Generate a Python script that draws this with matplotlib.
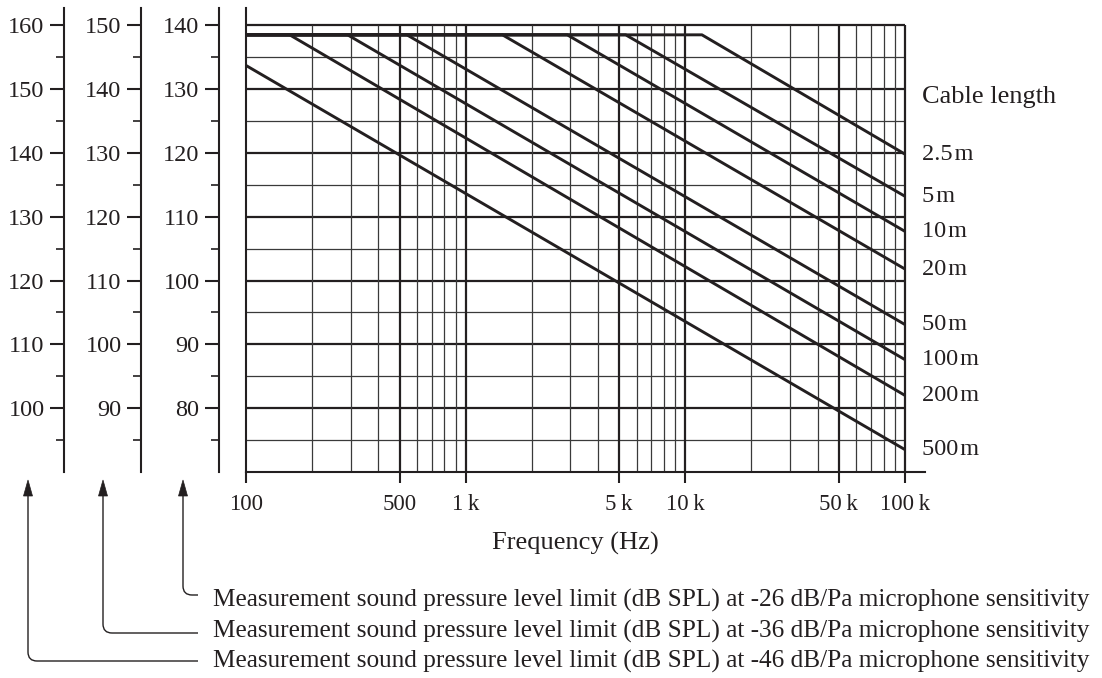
import numpy as np
import matplotlib
matplotlib.use("Agg")
import matplotlib.pyplot as plt
from matplotlib.path import Path
from matplotlib.patches import PathPatch, Polygon

# ---------------- data ----------------
cable_labels = ["2.5\u200am", "5\u200am", "10\u200am", "20\u200am", "50\u200am", "100\u200am", "200\u200am", "500\u200am"]
knee_freq_hz = [11900, 5350, 2900, 1470, 540, 290, 158, 100]
knee_level_db = [138.5, 138.5, 138.5, 138.5, 138.5, 138.5, 138.5, 133.7]
end_level_db = [119.8, 113.2, 107.7, 101.8, 93.1, 87.6, 82.0, 73.5]
start_freq_hz = 100
end_freq_hz = 100000
saturation_db = 138.5

x_ticks = [100, 500, 1000, 5000, 10000, 50000, 100000]
x_tick_labels = ["100", "500", "1\u2009k", "5\u2009k", "10\u2009k", "50\u2009k", "100\u2009k"]

# three left SPL scales: top value of each (main grid top = 140)
scale_offsets = [20, 10, 0]
sensitivities = ["-26", "-36", "-46"]

# ---------------- layout ----------------
W, H = 1102, 678
INK = "#231f20"
FONT = ["Liberation Serif", "DejaVu Serif"]
plt.rcParams["font.family"] = FONT

fig = plt.figure(figsize=(W / 100, H / 100), dpi=100)

def fx(px):
    return px / W

def fy(py):
    return 1 - py / H

PX_PER_DEC = 219.67
left_px, right_px, bot_px, top_px = 246, 925, 472, 8
y_lo, y_hi = 70, 70 + (bot_px - top_px) / 6.382
x_hi = 100 * 10 ** ((right_px - left_px) / PX_PER_DEC)

ax = fig.add_axes([fx(left_px), fy(bot_px), (right_px - left_px) / W, (bot_px - top_px) / H])
ax.set_xscale("log")
ax.set_xlim(100, x_hi)
ax.set_ylim(y_lo, y_hi)
for s in ["top", "right"]:
    ax.spines[s].set_visible(False)
for s in ["left", "bottom"]:
    ax.spines[s].set_linewidth(1.5)
    ax.spines[s].set_color(INK)
ax.set_yticks([])
ax.set_xticks(x_ticks)
ax.set_xticklabels(x_tick_labels)
ax.xaxis.set_minor_locator(matplotlib.ticker.NullLocator())
ax.tick_params(axis="x", direction="out", length=8, width=1.5, color=INK,
               labelsize=16.5, labelcolor=INK, pad=8)
fig.text(fx((905 + 246) / 2), fy(543), "Frequency (Hz)", ha="center", va="center",
         fontsize=19, color=INK)

# horizontal grid
for v in range(75, 141, 5):
    major = v % 10 == 0
    ax.plot([start_freq_hz, end_freq_hz], [v, v], color=INK if major else "#3a3a3a",
            lw=1.6 if major else 0.9, solid_capstyle="butt", zorder=1)
# vertical grid
thick_f = {500, 1000, 5000, 10000, 50000, 100000}
for dec in [100, 1000, 10000]:
    for m in range(2, 11):
        f = dec * m
        ax.plot([f, f], [y_lo, 140], color=INK if f in thick_f else "#3a3a3a",
                lw=1.6 if f in thick_f else 0.9, solid_capstyle="butt", zorder=1)

# cable curves
for lab, kf, kl, el in zip(cable_labels, knee_freq_hz, knee_level_db, end_level_db):
    if kf > start_freq_hz:
        xs = [start_freq_hz, kf, end_freq_hz]
        ys = [saturation_db, kl, el]
    else:
        xs = [kf, end_freq_hz]
        ys = [kl, el]
    ax.plot(xs, ys, color=INK, lw=2.1, zorder=3, solid_capstyle="butt")
    ax.annotate(lab, xy=(end_freq_hz, el), xytext=(12, 0), textcoords="offset points",
                ha="left", va="center", fontsize=17.5, color=INK, annotation_clip=False)

ax.annotate("Cable length", xy=(end_freq_hz, 128.7), xytext=(12, 0), textcoords="offset points",
            ha="left", va="center", fontsize=19, color=INK, annotation_clip=False)

# left SPL scales
for off, xpx in zip(scale_offsets, [64, 141, 219]):
    a = fig.add_axes([fx(xpx), fy(bot_px), 0.0005, (bot_px - top_px) / H])
    a.set_ylim(y_lo + off, y_hi + off)
    a.patch.set_visible(False)
    for s in ["top", "right", "bottom"]:
        a.spines[s].set_visible(False)
    a.spines["left"].set_linewidth(1.5)
    a.spines["left"].set_color(INK)
    a.set_xticks([])
    a.set_yticks(np.arange(80 + off, 141 + off, 10))
    a.set_yticks(np.arange(75 + off, 140 + off, 10), minor=True)
    a.tick_params(axis="y", which="major", direction="out", length=10, width=1.5,
                  color=INK, labelsize=17.5, labelcolor=INK, pad=4)
    a.tick_params(axis="y", which="minor", direction="out", length=5.5, width=1.2, color=INK)

# annotation arrows
arrow_x = [183, 103, 28]
line_y = [595, 633, 661]
text_y = [600, 631, 661]
tip_y, head_len, head_w, r = 480, 16, 9, 9
end_x = 198
for sens, axp, ly, ty in zip(sensitivities, arrow_x, line_y, text_y):
    verts = [(axp, tip_y + head_len - 2), (axp, ly - r), (axp, ly), (axp + r, ly), (end_x, ly)]
    codes = [Path.MOVETO, Path.LINETO, Path.CURVE3, Path.CURVE3, Path.LINETO]
    verts_f = [(fx(a_), fy(b_)) for a_, b_ in verts]
    fig.add_artist(PathPatch(Path(verts_f, codes), fill=False, lw=1.0, edgecolor=INK,
                             transform=fig.transFigure))
    head = [(fx(axp), fy(tip_y)), (fx(axp - head_w / 2), fy(tip_y + head_len)),
            (fx(axp + head_w / 2), fy(tip_y + head_len))]
    fig.add_artist(Polygon(head, closed=True, facecolor=INK, edgecolor=INK, lw=0.5,
                           transform=fig.transFigure))
    fig.text(fx(213), fy(ty),
             f"Measurement sound pressure level limit (dB SPL) at {sens} dB/Pa microphone sensitivity",
             ha="left", va="center", fontsize=18.2, color=INK)

fig.savefig("out.png", dpi=100)
